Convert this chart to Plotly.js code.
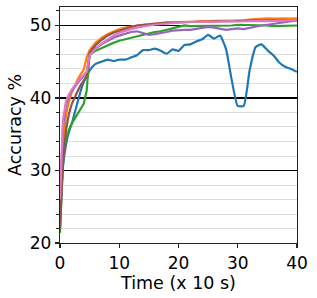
<!DOCTYPE html>
<html>
<head>
<meta charset="utf-8">
<script src="https://cdn.plot.ly/plotly-3.0.1.min.js"></script>
<style>html,body{margin:0;padding:0;background:#fff;}#chart{width:317px;height:298px;}</style>
</head>
<body>
<div id="chart"></div>
<script>
const time = [0,0.5,1,1.5,2,2.5,3,3.5,4,4.5,5,6,7,8,9,10,11,12,13,14,15,16,17,18,19,20,21,22,23,24,25,26,27,28,29,30,31,32,33,34,35,36,37,38,39,40];

const blue   = [23,30.5,33.5,35.3,36.5,38.0,39.5,41.0,42.2,43.0,43.8,44.7,45.0,45.3,45.1,45.3,45.3,45.6,45.9,46.6,46.6,46.8,46.5,46.1,46.7,46.5,47.3,47.4,47.8,48.1,48.7,48.2,48.6,46.8,42.4,38.9,38.9,43.8,47.0,47.4,46.6,45.9,44.9,44.3,44.0,43.6];
const orange = [24,33,37.5,39.5,40.8,41.8,42.6,43.3,43.9,45.6,46.6,47.6,48.3,48.8,49.2,49.5,49.7,49.9,50.0,50.1,50.2,50.3,50.35,50.4,50.45,50.5,50.5,50.55,50.55,50.6,50.6,50.6,50.65,50.6,50.6,50.65,50.7,50.8,50.9,51.0,51.0,50.95,51.0,51.0,50.95,51.0];
const green  = [21.4,31.5,34.3,35.6,36.5,37.2,37.9,38.5,39.2,41.0,46.0,46.5,46.9,47.3,47.6,47.9,48.1,48.3,48.5,48.7,49.0,49.1,49.2,49.4,49.6,49.8,50.0,49.9,49.9,50.0,50.0,49.9,50.0,50.0,50.0,50.1,50.1,50.1,50.1,50.0,50.0,49.9,49.9,50.0,50.0,50.0];
const purple = [25,36,39,40.3,41.0,41.6,42.1,42.6,43.0,43.5,46.0,46.8,47.4,47.9,48.3,48.6,48.9,49.1,49.2,48.9,48.7,48.8,48.9,49.1,49.3,49.4,49.4,49.4,49.5,49.7,49.8,49.7,49.5,49.4,49.5,49.6,49.5,49.7,49.9,50.0,50.1,50.2,50.4,50.5,50.6,50.7];
const brown  = [22,31,35.5,37.8,39.2,40.2,41.0,41.8,42.4,43.0,46.2,47.3,48.0,48.6,49.0,49.3,49.6,49.8,50.0,50.1,50.2,50.3,50.35,50.4,50.4,50.45,50.5,50.5,50.5,50.55,50.55,50.6,50.6,50.6,50.6,50.65,50.65,50.7,50.7,50.7,50.7,50.75,50.7,50.75,50.7,50.75];
const pink   = [26,37,39.5,40.5,41.2,41.8,42.3,42.8,43.2,43.6,45.9,46.8,47.5,48.1,48.6,49.0,49.3,49.5,49.7,49.9,50.0,50.1,50.2,50.3,50.35,50.4,50.45,50.5,50.5,50.5,50.55,50.5,50.55,50.6,50.6,50.55,50.6,50.6,50.6,50.65,50.6,50.65,50.7,50.7,50.7,50.75];

const seriesList = [
  {y: blue, c: '#1f77b4', shape: 'spline'},
  {y: orange, c: '#ff7f0e', shape: 'linear'},
  {y: green, c: '#2ca02c', shape: 'linear'},
  {y: purple, c: '#9467bd', shape: 'linear'},
  {y: brown, c: '#8c564b', shape: 'linear'},
  {y: pink, c: '#e377c2', shape: 'linear'}
];

const traces = seriesList.map(s => ({
  x: time, y: s.y, type: 'scatter', mode: 'lines',
  line: {color: s.c, width: 2.2, shape: s.shape, smoothing: 0.5}, hoverinfo: 'skip', showlegend: false
}));

const font = {family: 'DejaVu Sans', size: 17, color: '#000'};

const layout = {
  width: 317, height: 298,
  margin: {l: 60, r: 20, t: 7, b: 55},
  paper_bgcolor: '#fff', plot_bgcolor: '#fff',
  font: font,
  showlegend: false,
  xaxis: {
    range: [0, 40], tickvals: [0,10,20,30,40], ticktext: ['0','10','20','30','40'],
    showgrid: false, zeroline: false, automargin: true,
    showline: true, mirror: true, linecolor: '#222', linewidth: 1.2,
    ticks: 'outside', ticklen: 4, tickwidth: 1.2, tickcolor: '#222',
    tickfont: font,
    title: {text: 'Time (x 10 s)', font: {family: 'DejaVu Sans', size: 17.5, color: '#000'}, standoff: 0}
  },
  yaxis: {
    range: [20, 52.55], tickvals: [20,30,40,50], ticktext: ['20','30','40','50'],
    showgrid: true, gridcolor: '#000', gridwidth: 1.4, zeroline: false, automargin: true,
    showline: true, mirror: true, linecolor: '#222', linewidth: 1.2,
    ticks: 'outside', ticklen: 4, tickwidth: 1.2, tickcolor: '#222',
    tickfont: font,
    minor: {dtick: 2, tick0: 20, showgrid: true, gridcolor: '#dcdcdc', gridwidth: 1, ticks: 'outside', ticklen: 2.5, tickcolor: '#222', tickwidth: 1},
    title: {text: 'Accuracy %', font: {family: 'DejaVu Sans', size: 17.5, color: '#000'}, standoff: 3}
  }
};

Plotly.newPlot('chart', traces, layout, {staticPlot: true, displayModeBar: false});
</script>
</body>
</html>
